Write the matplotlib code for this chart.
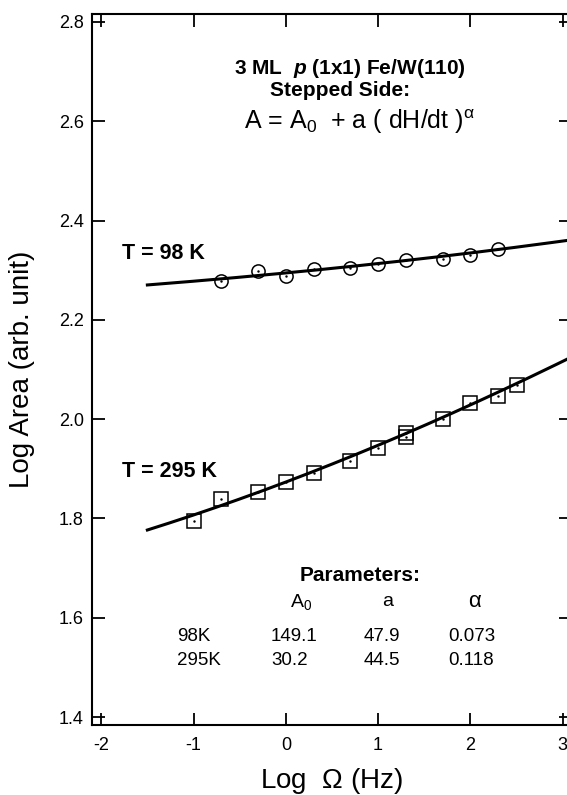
import numpy as np
import matplotlib.pyplot as plt

plt.rcParams['font.family'] = ['Liberation Sans', 'DejaVu Sans']
plt.rcParams['mathtext.fontset'] = 'custom'
plt.rcParams['mathtext.rm'] = 'Liberation Sans'
plt.rcParams['mathtext.it'] = 'Liberation Sans:italic'
plt.rcParams['mathtext.bf'] = 'Liberation Sans:bold'
plt.rcParams['mathtext.bfit'] = 'Liberation Sans:italic:bold'
plt.rcParams['axes.unicode_minus'] = False

# data
log_f_98  = [-0.7, -0.3, 0.0, 0.3, 0.7, 1.0, 1.3, 1.7, 2.0, 2.3]
log_a_98  = [2.278, 2.298, 2.289, 2.302, 2.305, 2.313, 2.321, 2.322, 2.330, 2.343]
log_f_295 = [-1.0, -0.7, -0.3, 0.0, 0.3, 0.7, 1.0, 1.3, 1.3, 1.7, 2.0, 2.3, 2.5]
log_a_295 = [1.794, 1.840, 1.853, 1.873, 1.892, 1.915, 1.941, 1.964, 1.972, 2.001, 2.032, 2.047, 2.069]

# fit parameters (as printed in the figure)
temps  = ['98K', '295K']
A0     = [149.1, 30.2]
a_coef = [47.9, 44.5]
alpha  = [0.073, 0.118]
fit_range = (-1.5, 3.1)

fig = plt.figure(figsize=(5.67, 7.95), dpi=100)
ax = fig.add_axes([92/567, 70/795, 479/567, 711/795])

# fitted curves  A = A0 + a * Omega^alpha  (log-log)
xf = np.linspace(*fit_range, 200)
for A, a, al in zip(A0, a_coef, alpha):
    ax.plot(xf, np.log10(A + a * 10**(al * xf)), color='k', lw=2.2)

ax.plot(log_f_98, log_a_98, 'o', ms=9.5, mfc='none', mec='k', mew=1.1)
ax.plot(log_f_98, log_a_98, '.', ms=1.5, color='k')
ax.plot(log_f_295, log_a_295, 's', ms=9.5, mfc='none', mec='k', mew=1.1)
ax.plot(log_f_295, log_a_295, '.', ms=1.5, color='k')

ax.set_xlim(-2.1, 3.09); ax.set_ylim(1.384, 2.816)
ax.set_xticks(range(-2, 4))
ax.set_yticks(np.arange(1.4, 2.81, 0.2))
ax.set_yticklabels([f'{v:.1f}' for v in np.arange(1.4, 2.81, 0.2)])
ax.tick_params(direction='in', length=9, width=1.3, top=True, right=True, labelsize=13)
ax.tick_params(axis='y', pad=6); ax.tick_params(axis='x', pad=9)
for s in ax.spines.values(): s.set_linewidth(1.5)

ax.set_xlabel(r'Log  $\Omega$ (Hz)', fontsize=20, labelpad=8)
ax.set_ylabel('Log Area (arb. unit)', fontsize=20)
ax.yaxis.set_label_coords(-0.12, 0.5)

ax.text(0.70, 2.707, r'3 ML  $\mathbfit{p}$ (1x1) Fe/W(110)', fontsize=15, fontweight='bold', ha='center', va='center')
ax.text(0.59, 2.661, 'Stepped Side:', fontsize=15, fontweight='bold', ha='center', va='center')
ax.text(0.80, 2.600, r'A = A$_0$  + a ( dH/dt )$^{\mathrm{\alpha}}$', fontsize=18, ha='center', va='center')

ax.text(-1.77, 2.333, 'T = 98 K', fontsize=15.5, fontweight='bold', ha='left', va='center')
ax.text(-1.78, 1.895, 'T = 295 K', fontsize=15.5, fontweight='bold', ha='left', va='center')

ax.text(0.15, 1.685, 'Parameters:', fontsize=15, fontweight='bold', ha='left', va='center')
ax.text(0.17, 1.632, r'A$_0$', fontsize=14, ha='center', va='center')
ax.text(1.10, 1.632, 'a', fontsize=14, ha='center', va='center')
ax.text(2.05, 1.632, r'$\mathrm{\alpha}$', fontsize=16, ha='center', va='center')
for i, (t, A, a, al) in enumerate(zip(temps, A0, a_coef, alpha)):
    yy = [1.562, 1.513][i]
    ax.text(-1.18, yy, t, fontsize=13.5, ha='left', va='center')
    ax.text(-0.16, yy, f'{A:.1f}', fontsize=13.5, ha='left', va='center')
    ax.text(0.84, yy, f'{a:.1f}', fontsize=13.5, ha='left', va='center')
    ax.text(1.76, yy, f'{al:.3f}', fontsize=13.5, ha='left', va='center')

fig.savefig('out.png', dpi=100)
